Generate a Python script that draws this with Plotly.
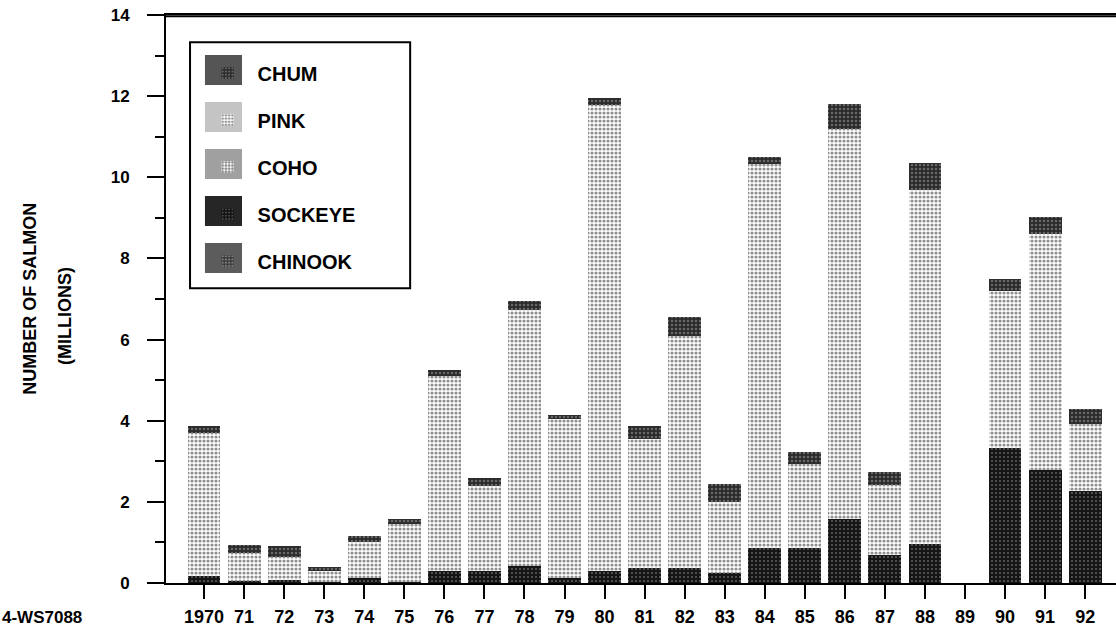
import plotly.graph_objs as go

# years on the x axis and the labels printed under the ticks
years = list(range(1970, 1993))
year_labels = ["1970", "71", "72", "73", "74", "75", "76", "77", "78", "79", "80",
               "81", "82", "83", "84", "85", "86", "87", "88", "89", "90", "91", "92"]

# salmon counts in millions (stacked bottom to top)
chinook = [0] * 23
sockeye = [0.17, 0.05, 0.07, 0.02, 0.12, 0.02, 0.30, 0.30, 0.43, 0.12, 0.30, 0.37,
           0.38, 0.25, 0.86, 0.86, 1.58, 0.69, 0.96, 0, 3.33, 2.79, 2.27]
coho = [0] * 23
pink = [3.52, 0.70, 0.58, 0.28, 0.90, 1.43, 4.80, 2.09, 6.30, 3.92, 11.48, 3.18,
        5.72, 1.75, 9.47, 2.07, 9.62, 1.73, 8.73, 0, 3.87, 5.81, 1.65]
chum = [0.18, 0.19, 0.26, 0.10, 0.14, 0.12, 0.15, 0.21, 0.22, 0.11, 0.17, 0.32,
        0.45, 0.44, 0.17, 0.31, 0.60, 0.32, 0.67, 0, 0.29, 0.42, 0.37]

font = "Liberation Sans, Arial, sans-serif"

fig = go.Figure()

# halftone-like fills, one per species; rank sets the legend order (top to bottom)
series = [
    ("CHINOOK", chinook, 5, "#5c5c5c", dict(shape=".", bgcolor="#3a3a3a", fgcolor="#c8c8c8", size=4, solidity=0.35)),
    ("SOCKEYE", sockeye, 4, "#262626", dict(shape=".", bgcolor="#151515", fgcolor="#b0b0b0", size=4, solidity=0.2)),
    ("COHO", coho, 3, "#a0a0a0", dict(shape=".", bgcolor="white", fgcolor="#111111", size=4, solidity=0.55)),
    ("PINK", pink, 2, "#c4c4c4", dict(shape=".", bgcolor="white", fgcolor="#222222", size=4, solidity=0.5)),
    ("CHUM", chum, 1, "#555555", dict(shape=".", bgcolor="#2a2a2a", fgcolor="#a8a8a8", size=4, solidity=0.3)),
]
for name, vals, rank, swatch, pat in series:
    fig.add_trace(go.Bar(x=years, y=vals, name=name, legendgroup=name, legendrank=rank, width=0.82,
                         marker=dict(color=pat["bgcolor"], pattern=pat, line=dict(width=0))))

# legend frame, the top border of the plot, and larger swatches behind the legend keys
shapes = [
    dict(type="rect", xref="paper", yref="paper", x0=0.0253, x1=0.257, y0=0.519, y1=0.952,
         line=dict(color="black", width=2), fillcolor="white", layer="below"),
    dict(type="line", xref="paper", yref="paper", x0=-0.002, x1=1, y0=0.998, y1=0.998,
         line=dict(color="black", width=2), layer="above"),
]
swatch_rows = {"CHUM": 70, "PINK": 117, "COHO": 164, "SOCKEYE": 211, "CHINOOK": 258}
for name, vals, rank, swatch, pat in series:
    yc = (583 - swatch_rows[name]) / 568
    shapes.append(dict(type="rect", xref="paper", yref="paper", x0=0.041, x1=0.080,
                       y0=yc - 0.0264, y1=yc + 0.0264, line=dict(width=0),
                       fillcolor=swatch, layer="below"))

fig.update_layout(
    width=1116, height=632,
    barmode="stack",
    plot_bgcolor="white",
    paper_bgcolor="white",
    margin=dict(l=166, r=0, t=15, b=49, autoexpand=False),
    font=dict(family=font, size=18, color="black", weight="bold"),
    showlegend=True,
    legend=dict(x=0.0332, y=0.932, xanchor="left", yanchor="top",
                bgcolor="rgba(0,0,0,0)", borderwidth=0, itemwidth=50,
                traceorder="grouped", tracegroupgap=18,
                font=dict(family=font, size=20, color="black", weight="bold")),
    shapes=shapes,
    annotations=[
        dict(text="NUMBER OF SALMON", xref="paper", yref="paper", x=-0.156, y=0.50,
             textangle=-90, showarrow=False, font=dict(size=18)),
        dict(text="(MILLIONS)", xref="paper", yref="paper", x=-0.119, y=0.47,
             textangle=-90, showarrow=False, font=dict(size=18)),
        dict(text="4-WS7088", xref="paper", yref="paper", x=-0.1747, y=-0.06,
             xanchor="left", yanchor="middle", showarrow=False, font=dict(size=17)),
    ],
)

fig.update_xaxes(range=[1969.05, 1992.77], tickvals=years, ticktext=year_labels, tickangle=0,
                 automargin=False, ticklabeloverflow="allow",
                 showgrid=False, zeroline=False, showline=True, linecolor="black", linewidth=2,
                 mirror=True, ticks="outside", ticklen=14, tickwidth=2, tickcolor="black",
                 ticklabelstandoff=2, tickfont=dict(size=18))
fig.update_yaxes(range=[0, 14], tickvals=[0, 2, 4, 6, 8, 10, 12, 14], automargin=False,
                 ticklabeloverflow="allow",
                 showgrid=False, zeroline=False, showline=True, linecolor="black", linewidth=2,
                 mirror=True, ticks="outside", ticklen=17, tickwidth=2, tickcolor="black",
                 ticklabelstandoff=14, tickfont=dict(size=17),
                 minor=dict(dtick=1, ticks="outside", ticklen=9, tickwidth=2, tickcolor="black"))

# drop the default page margin so the figure fills the window exactly
fig.write_html("out.html", config={"displayModeBar": False},
               post_script="document.body.style.margin='0';")
